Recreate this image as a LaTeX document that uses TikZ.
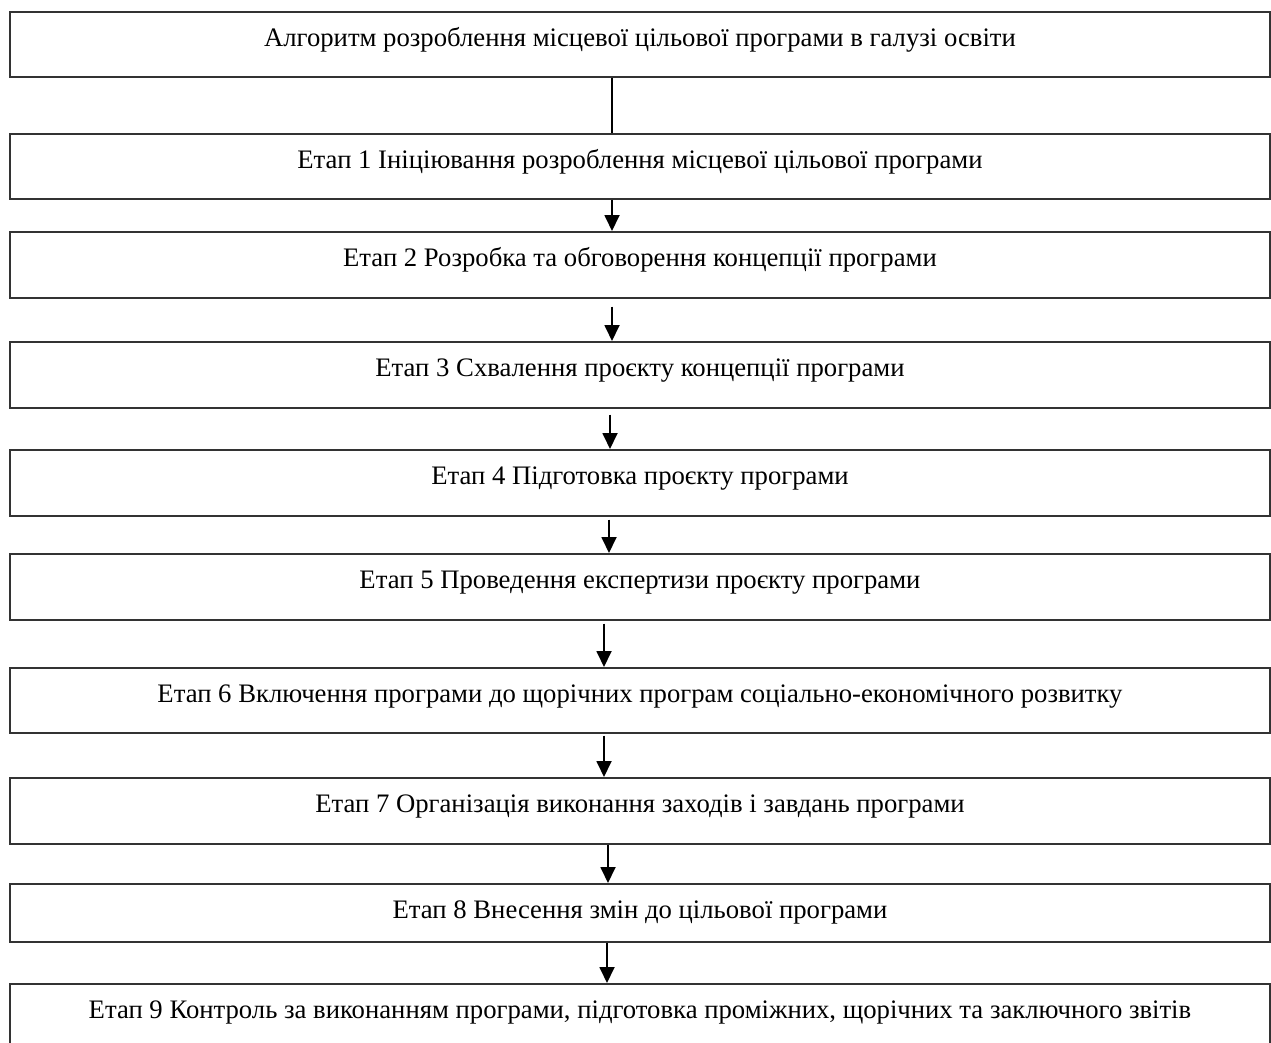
\documentclass[tikz,border=0pt]{standalone}
\usepackage{fontspec}
\setmainfont{Liberation Serif}
\usetikzlibrary{arrows.meta,calc}
\begin{document}
\begin{tikzpicture}[x=1pt,y=-1pt,
  stagebox/.style={draw=black!80, line width=1.6pt, minimum width=1260pt,
    inner xsep=0pt, inner ysep=0pt, text height=35pt, text depth=#1,
    anchor=north, font=\fontsize{26.7}{30}\selectfont},
  link/.style={line width=1.8pt, black},
  arr/.style={link, -{Triangle[width=15pt,length=16pt]}}]
\useasboundingbox (0,0) rectangle (1271,1043);
\clip (0,0) rectangle (1271,1043);
\node[stagebox=30pt] (b0) at (640,11) {Алгоритм розроблення місцевої цільової програми в галузі освіти};
\node[stagebox=30pt] (b1) at (640,133) {Етап 1 Ініціювання розроблення місцевої цільової програми};
\node[stagebox=31pt] (b2) at (640,231) {Етап 2 Розробка та обговорення концепції програми};
\node[stagebox=31pt] (b3) at (640,341) {Етап 3 Схвалення проєкту концепції програми};
\node[stagebox=31pt] (b4) at (640,449) {Етап 4 Підготовка проєкту програми};
\node[stagebox=31pt] (b5) at (640,553) {Етап 5 Проведення експертизи проєкту програми};
\node[stagebox=30pt] (b6) at (640,667) {Етап 6 Включення програми до щорічних програм соціально-економічного розвитку};
\node[stagebox=31pt] (b7) at (640,777) {Етап 7 Організація виконання заходів і завдань програми};
\node[stagebox=23pt] (b8) at (640,883) {Етап 8 Внесення змін до цільової програми};
\node[stagebox=90pt] (b9) at (640,983) {Етап 9 Контроль за виконанням програми, підготовка проміжних, щорічних та заключного звітів};
\coordinate (s0) at ($(b0.south)+(-28,0)$);
\coordinate (s1) at ($(b1.south)+(-28,0)$);
\coordinate (s2) at ($(b2.south)+(-28,8)$);
\coordinate (s3) at ($(b3.south)+(-30,6)$);
\coordinate (s4) at ($(b4.south)+(-31,3)$);
\coordinate (s5) at ($(b5.south)+(-36,3)$);
\coordinate (s6) at ($(b6.south)+(-36,2)$);
\coordinate (s7) at ($(b7.south)+(-32,0)$);
\coordinate (s8) at ($(b8.south)+(-33,0)$);
\draw[link] (s0) -- (s0 |- b1.north);
\draw[arr] (s1) -- (s1 |- b2.north);
\draw[arr] (s2) -- (s2 |- b3.north);
\draw[arr] (s3) -- (s3 |- b4.north);
\draw[arr] (s4) -- (s4 |- b5.north);
\draw[arr] (s5) -- (s5 |- b6.north);
\draw[arr] (s6) -- (s6 |- b7.north);
\draw[arr] (s7) -- (s7 |- b8.north);
\draw[arr] (s8) -- (s8 |- b9.north);
\end{tikzpicture}
\end{document}
